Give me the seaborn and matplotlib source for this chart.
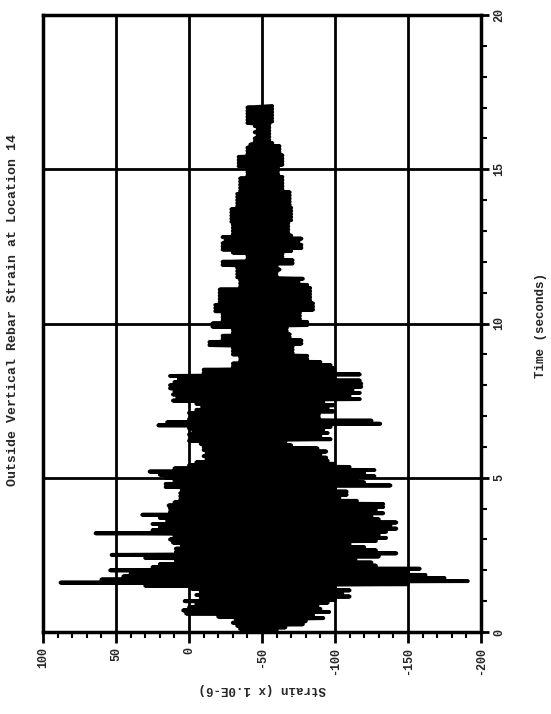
import numpy as np
import pandas as pd
import matplotlib
matplotlib.use("Agg")
import matplotlib.pyplot as plt
import seaborn as sns
from matplotlib.ticker import MultipleLocator

# ---- data (strain in micro-strain, time in seconds) ----
title = "Outside Vertical Rebar Strain at Location 14"
x_label = "Strain (x 1.0E-6)"
y_label = "Time (seconds)"
strain_ticks = [100, 50, 0, -50, -100, -150, -200]
time_ticks = [0, 5, 10, 15, 20]

# sample times every 0.1 s from 0.0 to 17.0 s
time_s = np.round(np.arange(0, 171) * 0.1, 1)

# upper (most positive) envelope of the oscillation at each sample time
strain_max = [
    -37, -35, -33, -30, -32, -20, 2, 4, 0, -5,          # 0.0-0.9
    3, -8, -5, -8, -2, 30, 88, 60, 45, 40,              # 1.0-1.9
    54, 25, 20, 9, 30, 53, 9, 9, 5, 11,                 # 2.0-2.9
    13, 10, 64, 25, 20, 25, 15, 20, 32, 13,             # 3.0-3.9
    13, 14, 10, 6, 6, 6, 5, 16, 16, 10,                 # 4.0-4.9
    16, 20, 27, 10, 0, -5, -12, -10, -12, -10,          # 5.0-5.9
    -10, -8, 0, -2, 0, -3, 0, 21, 15, 0,                # 6.0-6.9
    -2, 0, -5, -9, -5, 11, 8, 11, 10, 13,               # 7.0-7.9
    13, 10, 7, 13, -10, -10, -30, -30, -35, -35,        # 8.0-8.9
    -30, -30, -30, -14, -14, -23, -23, -30, -30, -16,   # 9.0-9.9
    -16, -23, -23, -23, -18, -18, -18, -21, -21, -21,   # 10.0-10.9
    -21, -21, -35, -35, -35, -33, -33, -33, -33, -23,   # 11.0-11.9
    -23, -40, -40, -30, -23, -23, -23, -25, -23, -30,   # 12.0-12.9
    -30, -30, -30, -29, -29, -29, -29, -29, -33, -33,   # 13.0-13.9
    -33, -33, -33, -35, -35, -35, -35, -35, -40, -40,   # 14.0-14.9
    -40, -34, -34, -34, -34, -40, -40, -40, -42, -45,   # 15.0-15.9
    -45, -47, -45, -47, -45, -40, -40, -40, -40, -40,   # 16.0-16.9
    -40,                                                # 17.0
]

# lower (most negative) envelope of the oscillation at each sample time
strain_min = [
    -60, -66, -78, -80, -92, -85, -96, -90, -88, -95,
    -100, -110, -105, -110, -100, -150, -191, -175, -162, -150,
    -158, -128, -125, -114, -130, -142, -128, -120, -110, -128,
    -135, -130, -135, -142, -138, -142, -130, -125, -133, -128,
    -133, -133, -115, -103, -108, -108, -100, -138, -120, -115,
    -127, -120, -127, -110, -99, -95, -94, -90, -94, -88,
    -70, -66, -97, -90, -95, -92, -97, -131, -125, -89,
    -89, -99, -95, -99, -92, -117, -110, -117, -112, -118,
    -118, -117, -99, -117, -99, -99, -97, -90, -81, -81,
    -71, -71, -71, -77, -77, -69, -69, -67, -67, -81,
    -81, -76, -76, -76, -85, -85, -85, -83, -83, -83,
    -83, -83, -81, -75, -78, -60, -60, -62, -60, -71,
    -71, -64, -64, -70, -77, -77, -75, -77, -70, -68,
    -68, -68, -68, -70, -70, -70, -70, -70, -69, -69,
    -69, -69, -69, -64, -64, -64, -64, -64, -61, -61,
    -61, -64, -64, -64, -64, -62, -62, -62, -57, -55,
    -55, -55, -55, -55, -55, -57, -57, -57, -57, -57,
    -57,
]

# ---- build the oscillating trace (alternating between envelopes) ----
rows = []
order = 0
for t, hi, lo in zip(time_s, strain_max, strain_min):
    rows.append((order, t, hi)); order += 1
    rows.append((order, t + 0.05, lo)); order += 1
df = pd.DataFrame(rows, columns=["order", "time", "strain"])

sns.set_theme(style="white")
plt.rcParams["font.family"] = ["Liberation Mono", "DejaVu Sans Mono"]
plt.rcParams["font.weight"] = "bold"

fig = plt.figure(figsize=(5.51, 7.14), dpi=100)
ax = fig.add_axes([43 / 551, 82 / 714, 438 / 551, 617 / 714])

sns.lineplot(data=df, x="strain", y="time", sort=False, estimator=None,
             color="black", linewidth=2.8, ax=ax)

ax.set_xlim(100, -200)
ax.set_ylim(0, 20)
ax.set_xticks(strain_ticks)
ax.set_xticklabels([str(v) for v in strain_ticks], rotation=90, fontsize=8.5, fontweight="bold")
ax.set_yticks(time_ticks)
ax.xaxis.set_minor_locator(MultipleLocator(10))
ax.yaxis.set_minor_locator(MultipleLocator(1))
ax.yaxis.tick_right()
ax.yaxis.set_label_position("right")
ax.set_yticklabels([str(v) for v in time_ticks], rotation=90, fontsize=8.5,
                   fontweight="bold", va="center")

ax.grid(True, which="major", color="black", linewidth=2.0)
for s in ax.spines.values():
    s.set_color("black")
    s.set_linewidth(2.5)

ax.tick_params(axis="x", which="major", bottom=True, top=False, direction="out",
               length=8, width=2, color="black", pad=3)
ax.tick_params(axis="x", which="minor", bottom=True, top=False, direction="out",
               length=4, width=1.5, color="black")
ax.tick_params(axis="y", which="major", right=True, left=False, direction="out",
               length=6, width=2, color="black", pad=3)
ax.tick_params(axis="y", which="minor", right=True, left=False, direction="out",
               length=4, width=1.5, color="black")

ax.set_xlabel(x_label, rotation=180, fontsize=9, fontweight="bold")
ax.xaxis.set_label_coords(0.5, -0.083)
ax.set_ylabel(y_label, rotation=90, fontsize=9, fontweight="bold")
ax.yaxis.set_label_coords(1.123, 0.4975)

fig.suptitle(title, x=13 / 551, y=1 - 310 / 714, rotation=90, ha="center",
             va="center", fontsize=9.5, fontweight="bold")

fig.savefig("out.png", dpi=100, facecolor="white")
